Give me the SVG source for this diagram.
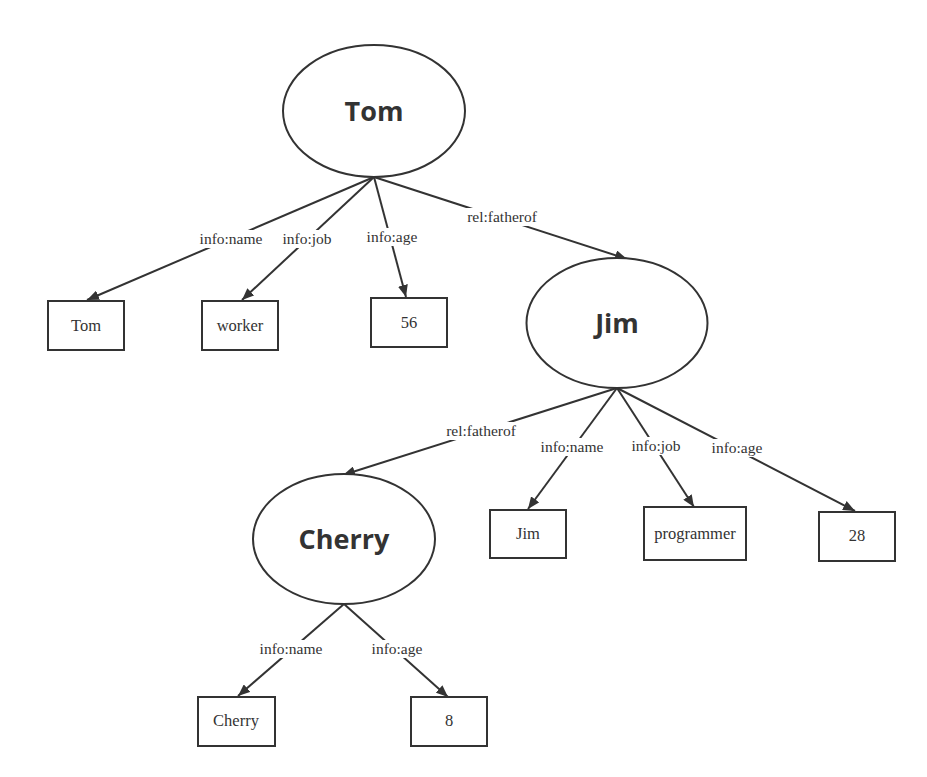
<svg xmlns="http://www.w3.org/2000/svg" width="927" height="777" viewBox="0 0 927 777">
<style>
.ell{fill:#fff;stroke:#333;stroke-width:2}
.box{fill:#fff;stroke:#333;stroke-width:2}
.title{font-family:"Open Sans","Liberation Sans",sans-serif;font-weight:bold;font-size:27px;fill:#333;text-anchor:middle}
.bt{font-family:"Liberation Serif",serif;font-size:16.5px;fill:#333;text-anchor:middle}
.lbl{font-family:"Liberation Serif",serif;font-size:15.5px;fill:#333;text-anchor:middle}
.edge{stroke:#333;stroke-width:2;fill:none;marker-end:url(#arr)}
.lb{fill:#fff}
</style>
<defs>
<marker id="arr" viewBox="0 0 12 10" refX="12" refY="5" markerWidth="12" markerHeight="10" markerUnits="userSpaceOnUse" orient="auto">
<path d="M0,0 L12,5 L0,10 z" fill="#333"/>
</marker>
</defs>
<rect width="927" height="777" fill="#fff"/>
<g id="connectors">
<line class="edge" x1="374" y1="177" x2="87" y2="300"/>
<line class="edge" x1="374" y1="177" x2="242" y2="300"/>
<line class="edge" x1="374" y1="177" x2="406" y2="297"/>
<line class="edge" x1="374" y1="177" x2="627" y2="259"/>
<line class="edge" x1="617" y1="388" x2="343" y2="475"/>
<line class="edge" x1="617" y1="388" x2="528" y2="509"/>
<line class="edge" x1="617" y1="388" x2="694" y2="507"/>
<line class="edge" x1="617" y1="388" x2="855" y2="511"/>
<line class="edge" x1="344" y1="604" x2="238" y2="696"/>
<line class="edge" x1="344" y1="604" x2="448" y2="697"/>
<rect class="lb" x="197" y="230" width="68" height="18"/>
<text class="lbl" x="231" y="244">info:name</text>
<rect class="lb" x="281" y="230" width="52" height="18"/>
<text class="lbl" x="307" y="244">info:job</text>
<rect class="lb" x="364" y="228" width="56" height="18"/>
<text class="lbl" x="392" y="242">info:age</text>
<rect class="lb" x="463" y="208" width="78" height="18"/>
<text class="lbl" x="502" y="222">rel:fatherof</text>
<rect class="lb" x="442" y="422" width="78" height="18"/>
<text class="lbl" x="481" y="436">rel:fatherof</text>
<rect class="lb" x="538" y="438" width="68" height="18"/>
<text class="lbl" x="572" y="452">info:name</text>
<rect class="lb" x="630" y="437" width="52" height="18"/>
<text class="lbl" x="656" y="451">info:job</text>
<rect class="lb" x="709" y="439" width="56" height="18"/>
<text class="lbl" x="737" y="453">info:age</text>
<rect class="lb" x="257" y="640" width="68" height="18"/>
<text class="lbl" x="291" y="654">info:name</text>
<rect class="lb" x="369" y="640" width="56" height="18"/>
<text class="lbl" x="397" y="654">info:age</text>
</g>
<g id="node-tom">
<ellipse class="ell" cx="374" cy="111" rx="91" ry="66"/>
<text class="title" x="374" y="121">Tom</text>
</g>
<g id="node-jim">
<ellipse class="ell" cx="617" cy="323" rx="90.5" ry="65"/>
<text class="title" x="617" y="333">Jim</text>
</g>
<g id="node-cherry">
<ellipse class="ell" cx="344" cy="539" rx="91" ry="65"/>
<text class="title" x="344" y="549">Cherry</text>
</g>
<g id="box-tom">
<rect class="box" x="48" y="301" width="76" height="49"/>
<text class="bt" x="86" y="331">Tom</text>
</g>
<g id="box-worker">
<rect class="box" x="202" y="301" width="76" height="49"/>
<text class="bt" x="240" y="331">worker</text>
</g>
<g id="box-56">
<rect class="box" x="371" y="298" width="76" height="49"/>
<text class="bt" x="409" y="328">56</text>
</g>
<g id="box-jim">
<rect class="box" x="490" y="510" width="76" height="48"/>
<text class="bt" x="528" y="539">Jim</text>
</g>
<g id="box-programmer">
<rect class="box" x="644" y="507" width="102" height="53"/>
<text class="bt" x="695" y="539">programmer</text>
</g>
<g id="box-28">
<rect class="box" x="819" y="512" width="76" height="49"/>
<text class="bt" x="857" y="541">28</text>
</g>
<g id="box-cherry">
<rect class="box" x="198" y="697" width="77" height="49"/>
<text class="bt" x="236" y="726">Cherry</text>
</g>
<g id="box-8">
<rect class="box" x="411" y="697" width="76" height="49"/>
<text class="bt" x="449" y="726">8</text>
</g>
</svg>
